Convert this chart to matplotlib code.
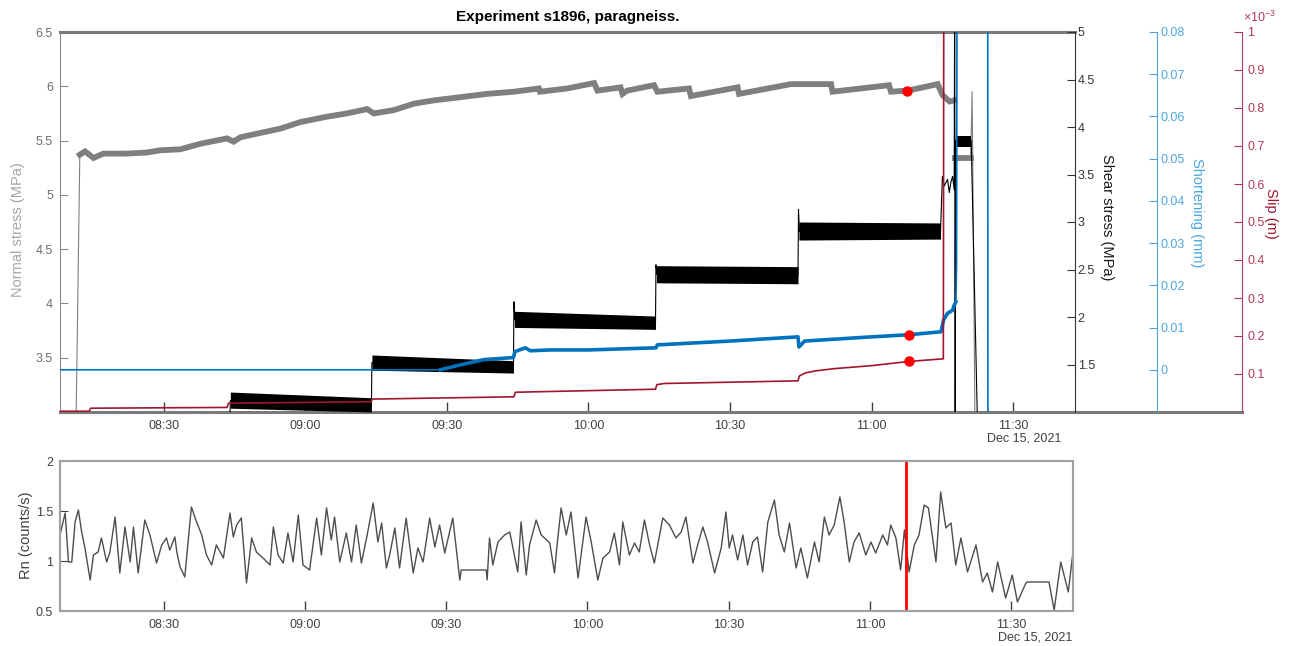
import numpy as np
import pandas as pd
import matplotlib
matplotlib.use('Agg')
import matplotlib.pyplot as plt
import matplotlib.dates as mdates
from matplotlib.lines import Line2D

plt.rcParams['font.family'] = ['Liberation Sans', 'DejaVu Sans']
plt.rcParams['mathtext.default'] = 'regular'

# all times are minutes after 08:00, Dec 15 2021
t_start, t_end = 8.0, 223.1

normal_t = [8.0, 11.4, 12.2, 13.3, 15.1, 17.2, 22.1, 26.4, 29.2, 33.5, 37.7, 43.4, 44.8, 46.2,
            50.4, 54.7, 58.9, 64.6, 68.8, 73.1, 74.5, 78.7, 83.0, 87.2, 92.9, 98.5, 104.2,
            109.5, 109.7, 115.5, 121.2, 121.9, 126.8, 127.2, 128.2, 133.9, 134.6, 141.3, 141.7,
            151.6, 151.9, 162.9, 171.4, 171.7, 183.7, 184.1, 187.6, 193.0, 194.0, 195.0, 196.5,
            197.5, 197.7, 201.0, 201.3, 201.9, 223.1]
normal_v = [2.9, 2.9, 5.37, 5.40, 5.34, 5.38, 5.38, 5.39, 5.41, 5.42, 5.47, 5.52, 5.49, 5.53,
            5.57, 5.61, 5.67, 5.72, 5.75, 5.79, 5.75, 5.78, 5.84, 5.87, 5.90, 5.93, 5.95,
            5.98, 5.95, 5.98, 6.03, 5.96, 5.99, 5.93, 5.96, 6.01, 5.95, 5.98, 5.91,
            5.99, 5.93, 6.02, 6.02, 5.95, 6.01, 5.95, 5.96, 6.01, 6.02, 5.92, 5.86,
            5.87, 5.34, 5.34, 5.95, 2.9, 2.9]

shear_t = [8.0, 44.0, 44.1, 74.0, 74.1, 104.1, 104.2, 104.4, 134.2, 134.3, 134.5, 164.4, 164.5,
           164.7, 194.6, 195.0, 195.4, 196.1, 196.45, 196.8, 197.16, 197.5, 197.6, 197.7, 197.8,
           201.1, 202.6, 223.1]
shear_v = [0.9, 0.9, 1.12, 1.08, 1.52, 1.47, 2.16, 1.97, 1.94, 2.55, 2.45, 2.44, 3.13,
           2.90, 2.90, 3.48, 3.38, 3.45, 3.31, 3.42, 3.48, 3.34, 5.5, 0.5, 3.86,
           3.86, 0.5, 0.5]
# envelopes of the noisy shear-stress plateaus
band_t0 = [44.1, 74.1, 104.3, 134.4, 164.6, 197.8]
band_t1 = [74.0, 104.1, 134.2, 164.4, 194.6, 201.1]
band_lo0 = [1.04, 1.44, 1.89, 2.36, 2.81, 3.79]
band_hi0 = [1.21, 1.60, 2.06, 2.54, 3.00, 3.91]
band_lo1 = [1.00, 1.41, 1.87, 2.35, 2.82, 3.79]
band_hi1 = [1.15, 1.54, 2.01, 2.53, 2.99, 3.91]

short_t = [8.0, 88.6, 93.0, 97.8, 104.1, 104.4, 106.6, 107.7, 112.0, 120.0, 134.3, 134.6, 150.0,
           164.4, 164.6, 165.8, 180.0, 187.9, 194.7, 195.25, 196.1, 197.16, 197.5, 197.87,
           198.0, 198.1, 204.6, 204.65, 223.1]
short_v = [0.0, 0.0, 0.0012, 0.0024, 0.0029, 0.0043, 0.0052, 0.0045, 0.0047, 0.0047, 0.0052,
           0.0059, 0.0068, 0.0078, 0.0054, 0.0068, 0.0078, 0.0083, 0.0090, 0.0118, 0.0134,
           0.0141, 0.0153, 0.0161, 0.025, 0.095, 0.095, -0.02, -0.02]

slip_t = [8.0, 14.2, 14.5, 43.4, 43.7, 73.9, 74.2, 104.2, 104.5, 134.2, 134.5, 136.0, 164.4,
          164.7, 166.0, 168.0, 172.0, 180.0, 187.9, 195.2, 195.3, 223.1]
slip_v = [0.002, 0.002, 0.010, 0.012, 0.023, 0.027, 0.034, 0.040, 0.052, 0.060, 0.072, 0.075,
          0.082, 0.095, 0.103, 0.108, 0.114, 0.122, 0.133, 0.140, 1.2, 1.2]  # x 1e-3 m

event_t = 187.6
event_normal, event_short, event_slip = 5.96, 0.0083, 0.134

rn_t = [8.0, 9.1, 9.8, 10.5, 11.2, 11.9, 12.6, 13.3, 14.4, 15.1, 16.1, 16.8, 17.9, 18.6, 19.7,
        20.7, 21.8, 22.9, 23.6, 24.6, 26.0, 27.1, 28.5, 29.6, 30.6, 31.3, 32.4, 32.8, 33.5, 34.5,
        35.9, 37.0, 38.1, 39.1, 40.2, 41.2, 42.7, 44.1, 44.8, 45.5, 46.5, 47.6, 48.7, 49.7, 51.1,
        52.6, 53.3, 54.3, 55.4, 56.4, 57.5, 58.6, 59.6, 61.0, 62.5, 63.5, 64.6, 65.6, 66.3, 67.4,
        68.8, 69.9, 70.9, 72.0, 73.1, 74.5, 75.5, 76.3, 77.3, 78.0, 79.1, 80.1,
        81.5, 83.0, 84.0, 85.1, 86.5, 87.6, 88.6, 89.7, 91.4, 92.9, 93.2, 98.5, 98.7, 99.2, 99.9,
        101.0, 102.4, 103.5, 105.2, 105.9, 107.0, 107.7, 109.1, 110.2, 112.0, 113.0, 113.4,
        114.4, 115.5, 116.5, 118.0, 119.7, 120.8, 122.2, 123.3, 124.7, 125.7, 126.8, 127.5,
        128.9, 130.0, 131.0, 132.1, 133.2, 134.2, 136.0, 137.4, 138.8, 139.9, 140.9, 142.4,
        143.4, 144.5, 145.5, 147.0, 148.4, 149.4,
        150.1, 150.8, 151.9, 153.0, 154.0, 155.1, 156.1, 157.2, 158.3, 159.7, 160.7, 161.8,
        162.9, 164.3, 165.3, 166.7, 168.2, 169.2, 170.3, 171.3, 172.4, 173.6, 174.5, 175.6,
        176.6, 177.7, 179.1, 180.2, 181.2, 182.7, 183.7, 184.4, 185.5, 186.5, 187.3, 188.3,
        189.4, 190.4, 191.5, 192.4, 194.0, 195.0, 196.1, 197.2, 198.2, 199.3, 200.7, 202.5,
        203.9, 204.9, 206.0, 207.1, 208.8, 210.2, 211.3, 213.1, 213.4, 218.0, 219.1, 220.5,
        222.1, 223.1]
rn_v = [1.26, 1.48, 0.99, 0.99, 1.39, 1.51, 1.29, 1.13, 0.81, 1.06, 1.09, 1.23, 0.99, 1.09, 1.44,
        0.88, 1.34, 0.99, 1.34, 0.88, 1.41, 1.26, 0.98, 1.16, 1.23, 1.11, 1.24, 1.09, 0.94, 0.84,
        1.54, 1.39, 1.26, 1.06, 0.96, 1.16, 1.03, 1.48, 1.24, 1.36, 1.43, 0.78, 1.23, 1.09, 1.03,
        0.96, 1.34, 1.06, 0.98, 1.28, 0.99, 1.46, 0.96, 0.91, 1.43, 1.06, 1.53, 1.21, 1.44, 0.99,
        1.28, 0.99, 1.36, 0.98, 1.23, 1.58, 1.19, 1.38, 0.93, 1.06, 1.33, 0.93,
        1.43, 0.88, 1.13, 0.99, 1.43, 1.14, 1.36, 1.08, 1.43, 0.81, 0.91, 0.91, 0.81, 1.23, 0.96,
        1.19, 1.26, 1.29, 0.89, 1.39, 0.86, 1.16, 1.41, 1.26, 1.18, 0.88, 1.09,
        1.53, 1.26, 1.49, 0.83, 1.44, 1.19, 0.81, 1.03, 1.09, 1.28, 0.96, 1.39,
        1.06, 1.18, 1.09, 1.41, 1.16, 0.98, 1.43, 1.36, 1.23, 1.29, 1.44, 0.98,
        1.16, 1.34, 1.19, 0.88, 1.13, 1.49,
        1.13, 1.26, 1.01, 1.26, 0.96, 1.19, 1.24, 0.89, 1.39, 1.61, 1.26, 1.09,
        1.38, 0.93, 1.13, 0.83, 1.19, 0.99, 1.44, 1.26, 1.36, 1.64, 1.39, 0.99,
        1.19, 1.28, 1.06, 1.19, 1.08, 1.26, 1.16, 1.36, 1.23, 0.91, 1.31, 0.89,
        1.16, 1.26, 1.56, 1.53, 0.99, 1.69, 1.33, 1.38, 0.96, 1.23, 0.89, 1.16,
        0.79, 0.88, 0.69, 0.99, 0.63, 0.86, 0.59, 0.78, 0.79, 0.79, 0.51, 0.99,
        0.69, 1.09]

normal_ticks = [3.5, 4, 4.5, 5, 5.5, 6, 6.5]
normal_labels = ['3.5', '4', '4.5', '5', '5.5', '6', '6.5']
shear_ticks = [1.5, 2, 2.5, 3, 3.5, 4, 4.5, 5]
shear_labels = ['1.5', '2', '2.5', '3', '3.5', '4', '4.5', '5']
short_ticks = [0, 0.01, 0.02, 0.03, 0.04, 0.05, 0.06, 0.07, 0.08]
short_labels = ['0', '0.01', '0.02', '0.03', '0.04', '0.05', '0.06', '0.07', '0.08']
slip_ticks = [0.1, 0.2, 0.3, 0.4, 0.5, 0.6, 0.7, 0.8, 0.9, 1.0]
slip_labels = ['0.1', '0.2', '0.3', '0.4', '0.5', '0.6', '0.7', '0.8', '0.9', '1']
rn_ticks = [0.5, 1, 1.5, 2]
rn_labels = ['0.5', '1', '1.5', '2']

C_GRAY = '#7f7f7f'
C_BLUE = '#0072BD'
C_BLUE_AX = '#4da6e0'
C_RED = '#A2142F'
C_RED_AX = '#b23a57'
C_TXT = '#404040'


def to_time(m):
    return (pd.Timestamp('2021-12-15 08:00') + pd.to_timedelta(np.asarray(m, dtype=float), unit='min')).values


def segment(t, v, a, b):
    t = np.asarray(t)
    v = np.asarray(v)
    m = (t >= a) & (t <= b)
    return to_time(t[m]), v[m]


W, H = 1294, 646
fig = plt.figure(figsize=(W / 100, H / 100), dpi=100)
ax = fig.add_axes([60 / W, 1 - 412 / H, 1015 / W, 380 / H])
ax_sh = ax.twinx()
ax_b = ax.twinx()
ax_r = ax.twinx()
ax2 = fig.add_axes([60 / W, 1 - 611 / H, 1013 / W, 150 / H])

# normal stress
ax.plot(to_time(normal_t), normal_v, color=C_GRAY, lw=0.8)
for a, b in [(12.2, 197.5), (197.7, 201.0)]:
    ts, vs = segment(normal_t, normal_v, a, b)
    ax.plot(ts, vs, color=C_GRAY, lw=4.2, solid_joinstyle='miter')
ax.plot(to_time([event_t]), [event_normal], 'o', color='red', ms=6.5, zorder=5)

# shear stress
ax_sh.plot(to_time(shear_t), shear_v, color='k', lw=0.8)
for i in range(len(band_t0)):
    ax_sh.fill_between(to_time([band_t0[i], band_t1[i]]), [band_lo0[i], band_lo1[i]],
                       [band_hi0[i], band_hi1[i]], color='k', lw=0)

# shortening
ax_b.plot(to_time(short_t), short_v, color=C_BLUE, lw=1.2)
ts, vs = segment(short_t, short_v, 88.6, 197.9)
ax_b.plot(ts, vs, color=C_BLUE, lw=2.6)
ax_b.plot(to_time([event_t + 0.3]), [event_short], 'o', color='red', ms=6.5, zorder=5)

# slip
ax_r.plot(to_time(slip_t), np.asarray(slip_v) * 1e-3, color=C_RED, lw=1.2)
ax_r.plot(to_time([event_t + 0.3]), [event_slip * 1e-3], 'o', color='red', ms=6.5, zorder=5)

# axes limits / ticks
xl = to_time([t_start, t_end])
for a in (ax, ax2):
    a.set_xlim(xl[0], xl[1])
    a.xaxis.set_major_locator(mdates.MinuteLocator(byminute=[0, 30]))
    a.xaxis.set_major_formatter(mdates.DateFormatter('%H:%M'))
    a.tick_params(axis='x', direction='in', length=7, width=1, colors=C_TXT, labelsize=9, pad=6)

ax.set_ylim(3.0, 6.5)
ax.set_yticks(normal_ticks, normal_labels)
ax.tick_params(axis='y', direction='in', length=6, colors='#8c8c8c', labelcolor='#6e6e6e',
               labelsize=9, pad=5)
ax_sh.set_ylim(1.0, 5.0)
ax_sh.set_yticks(shear_ticks, shear_labels)
ax_sh.tick_params(axis='y', direction='in', length=6, colors='#333333', labelsize=9, pad=2)
ax_b.set_ylim(-0.01, 0.08)
ax_b.set_yticks(short_ticks, short_labels)
ax_b.tick_params(axis='y', direction='in', length=6, colors=C_BLUE_AX, labelsize=9, pad=3)
ax_r.set_ylim(0, 1e-3)
ax_r.set_yticks(np.asarray(slip_ticks) * 1e-3, slip_labels)
ax_r.tick_params(axis='y', direction='in', length=6, colors=C_RED_AX, labelsize=9, pad=4)

ax_b.spines['right'].set_position(('axes', 1.0805))
ax_r.spines['right'].set_position(('axes', 1.1643))
for a in (ax_sh, ax_b, ax_r):
    for s in ('left', 'top', 'bottom'):
        a.spines[s].set_visible(False)
ax.spines['right'].set_visible(False)
ax.spines['left'].set_color('#8c8c8c')
for s in ('top', 'bottom'):
    ax.spines[s].set_color('#7a7a7a')
    ax.spines[s].set_linewidth(2.2)
ax_sh.spines['right'].set_color('#333333')
ax_b.spines['right'].set_color(C_BLUE_AX)
ax_r.spines['right'].set_color(C_RED_AX)
ax.add_line(Line2D([1.0, 1.1643], [0, 0], transform=ax.transAxes, color='#7a7a7a',
                   lw=2.2, clip_on=False))

# bottom panel
ax2.plot(to_time(rn_t), rn_v, color='#4d4d4d', lw=1.0)
ax2.axvline(to_time([event_t])[0], color='red', lw=2)
ax2.set_ylim(0.5, 2)
ax2.set_yticks(rn_ticks, rn_labels)
ax2.tick_params(axis='y', direction='in', length=6, colors=C_TXT, labelsize=9, pad=5)
for s in ax2.spines.values():
    s.set_color('#a0a0a0')
    s.set_linewidth(1.5)

# texts
fig.text(568 / W, 1 - 17 / H, 'Experiment s1896, paragneiss.', ha='center', va='center',
         fontsize=11, fontweight='bold')
fig.text(18.5 / W, 1 - 230 / H, 'Normal stress (MPa)', rotation=90, ha='center', va='center',
         fontsize=10.5, color='#a6a6a6')
fig.text(1107 / W, 1 - 217 / H, 'Shear stress (MPa)', rotation=270, ha='center', va='center',
         fontsize=10.5, color='#1a1a1a')
fig.text(1197 / W, 1 - 213 / H, 'Shortening (mm)', rotation=270, ha='center', va='center',
         fontsize=10.5, color=C_BLUE_AX)
fig.text(1271 / W, 1 - 213 / H, 'Slip (m)', rotation=270, ha='center', va='center',
         fontsize=10.5, color=C_RED)
fig.text(1243 / W, 1 - 17 / H, r'$\times10^{-3}$', ha='left', va='center', fontsize=9,
         color=C_RED_AX)
fig.text(26 / W, 1 - 535 / H, 'Rn (counts/s)', rotation=90, ha='center', va='center',
         fontsize=10.5, color=C_TXT)
ax.text(0.987, -0.071, 'Dec 15, 2021', transform=ax.transAxes, ha='right', va='center',
        fontsize=9, color=C_TXT)
ax2.text(0.999, -0.18, 'Dec 15, 2021', transform=ax2.transAxes, ha='right', va='center',
         fontsize=9, color=C_TXT)

fig.savefig('out.png', dpi=100)
